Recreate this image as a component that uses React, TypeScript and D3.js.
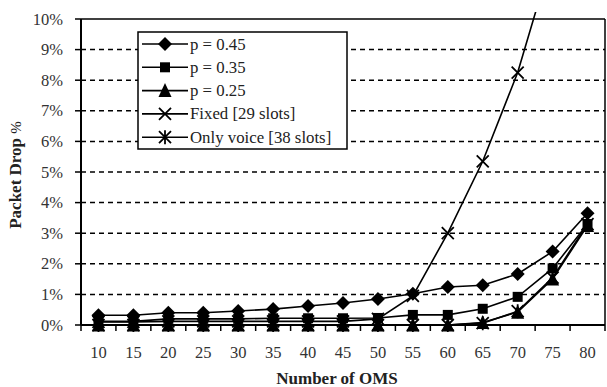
import React from "react";
import * as d3 from "d3";

const categories = ["10", "15", "20", "25", "30", "35", "40", "45", "50", "55", "60", "65", "70", "75", "80"];
const yTicks = [0, 1, 2, 3, 4, 5, 6, 7, 8, 9, 10];

const p045 = [0.32, 0.32, 0.4, 0.4, 0.46, 0.52, 0.62, 0.72, 0.85, 1.02, 1.24, 1.3, 1.67, 2.4, 3.65];
const p035 = [0.12, 0.12, 0.2, 0.2, 0.2, 0.22, 0.22, 0.22, 0.23, 0.33, 0.33, 0.53, 0.92, 1.85, 3.3];
const p025 = [0, 0, 0, 0, 0, 0, 0, 0, 0, 0, 0, 0.08, 0.42, 1.5, 3.25];
const fixed29 = [0.1, 0.1, 0.12, 0.12, 0.12, 0.12, 0.12, 0.12, 0.2, 0.95, 3.0, 5.35, 8.25, 12.1, 16];
const voice38 = [0, 0, 0, 0, 0, 0, 0, 0, 0, 0, 0, 0.06, 0.45, 1.55, 3.3];

type Series = { name: string; values: number[]; marker: string };
const series: Series[] = [
  { name: "Fixed [29 slots]", values: fixed29, marker: "x" },
  { name: "Only voice [38 slots]", values: voice38, marker: "star" },
  { name: "p = 0.25", values: p025, marker: "triangle" },
  { name: "p = 0.35", values: p035, marker: "square" },
  { name: "p = 0.45", values: p045, marker: "diamond" },
];
const legendOrder = ["p = 0.45", "p = 0.35", "p = 0.25", "Fixed [29 slots]", "Only voice [38 slots]"];

const W = 607;
const H = 387;
const left = 81;
const right = 605;
const top = 19;
const bottom = 325;
const serif = "'Liberation Serif', 'Times New Roman', serif";

function Marker({ kind, x, y }: { kind: string; x: number; y: number }) {
  if (kind === "diamond") {
    const r = 7;
    return <path d={`M${x},${y - r}L${x + r},${y}L${x},${y + r}L${x - r},${y}Z`} fill="#000" />;
  }
  if (kind === "square") {
    const s = 10;
    return <rect x={x - s / 2} y={y - s / 2} width={s} height={s} fill="#000" />;
  }
  if (kind === "triangle") {
    const r = 6.5;
    return <path d={`M${x},${y - r - 1}L${x + r},${y + r}L${x - r},${y + r}Z`} fill="#000" />;
  }
  if (kind === "x") {
    const r = 6;
    return (
      <path d={`M${x - r},${y - r}L${x + r},${y + r}M${x - r},${y + r}L${x + r},${y - r}`} stroke="#000" strokeWidth={1.8} />
    );
  }
  const r = 6;
  return (
    <path
      d={`M${x - r},${y - r}L${x + r},${y + r}M${x - r},${y + r}L${x + r},${y - r}M${x},${y - r - 1}L${x},${y + r + 1}`}
      stroke="#000"
      strokeWidth={1.8}
    />
  );
}

export default function App() {
  const x = d3.scaleBand<string>().domain(categories).range([left, right]);
  const y = d3.scaleLinear().domain([0, 10]).range([bottom, top]);
  const cx = (c: string) => (x(c) ?? 0) + x.bandwidth() / 2;
  const line = d3
    .line<number>()
    .x((_, i) => cx(categories[i]))
    .y((v) => y(v));

  const boundaries = d3.range(categories.length + 1).map((i) => left + i * x.bandwidth());

  return (
    <svg width={W} height={H} style={{ position: "absolute", left: 0, top: 0, background: "#fff" }}>
      <defs>
        <clipPath id="plotClip">
          <rect x={left} y={top - 7} width={right - left} height={bottom - top + 20} />
        </clipPath>
      </defs>
      <rect x={0} y={0} width={W} height={H} fill="#fff" />

      {/* dashed gridlines */}
      {yTicks.slice(1, -1).map((t) => (
        <line key={t} x1={left} x2={right} y1={y(t)} y2={y(t)} stroke="#000" strokeWidth={1.5} strokeDasharray="5,4" />
      ))}

      {/* plot frame: top and right */}
      <line x1={left} x2={right} y1={y(10)} y2={y(10)} stroke="#000" strokeWidth={1.5} />
      <line x1={right} x2={right} y1={y(10)} y2={bottom} stroke="#000" strokeWidth={1.5} />

      {/* y axis */}
      <line x1={left} x2={left} y1={top} y2={bottom} stroke="#000" strokeWidth={2} />
      {yTicks.map((t) => (
        <g key={t}>
          <line x1={left - 6} x2={left} y1={y(t)} y2={y(t)} stroke="#000" strokeWidth={1.5} />
          <text x={63} y={y(t) + 5.5} textAnchor="end" fontFamily={serif} fontSize={16.5} fill="#333">
            {t}%
          </text>
        </g>
      ))}

      {/* x axis */}
      <line x1={left} x2={right} y1={bottom} y2={bottom} stroke="#000" strokeWidth={2} />
      {boundaries.map((b, i) => (
        <line key={i} x1={b} x2={b} y1={bottom} y2={bottom + 6} stroke="#000" strokeWidth={1.5} />
      ))}
      {categories.map((c) => (
        <text key={c} x={cx(c)} y={358} textAnchor="middle" fontFamily={serif} fontSize={16.5} fill="#333">
          {c}
        </text>
      ))}

      {/* series */}
      <g clipPath="url(#plotClip)">
        {series.map((s) => (
          <path key={s.name} d={line(s.values) ?? ""} fill="none" stroke="#000" strokeWidth={1.6} />
        ))}
      </g>
      {series.map((s) => (
        <g key={s.name + "m"}>
          {s.values.map((v, i) =>
            v <= 10 ? <Marker key={i} kind={s.marker} x={cx(categories[i])} y={y(v)} /> : null
          )}
        </g>
      ))}

      {/* legend */}
      <rect x={138} y={32} width={209} height={117} fill="#fff" stroke="#000" strokeWidth={1.5} />
      {legendOrder.map((name, i) => {
        const s = series.find((d) => d.name === name)!;
        const ly = 44 + i * 23.3;
        return (
          <g key={name}>
            <line x1={142} x2={188} y1={ly} y2={ly} stroke="#000" strokeWidth={1.6} />
            <Marker kind={s.marker} x={165} y={ly} />
            <text x={190} y={ly + 5.5} fontFamily={serif} fontSize={16.8} fill="#222">
              {name}
            </text>
          </g>
        );
      })}

      {/* axis titles */}
      <text x={337} y={384} textAnchor="middle" fontFamily={serif} fontSize={17} fontWeight="bold" fill="#222">
        Number of OMS
      </text>
      <text
        transform="translate(21,175) rotate(-90)"
        textAnchor="middle"
        fontFamily={serif}
        fontSize={17}
        fontWeight="bold"
        fill="#222"
      >
        Packet Drop <tspan fontWeight="normal" fontSize={15}>%</tspan>
      </text>
    </svg>
  );
}
